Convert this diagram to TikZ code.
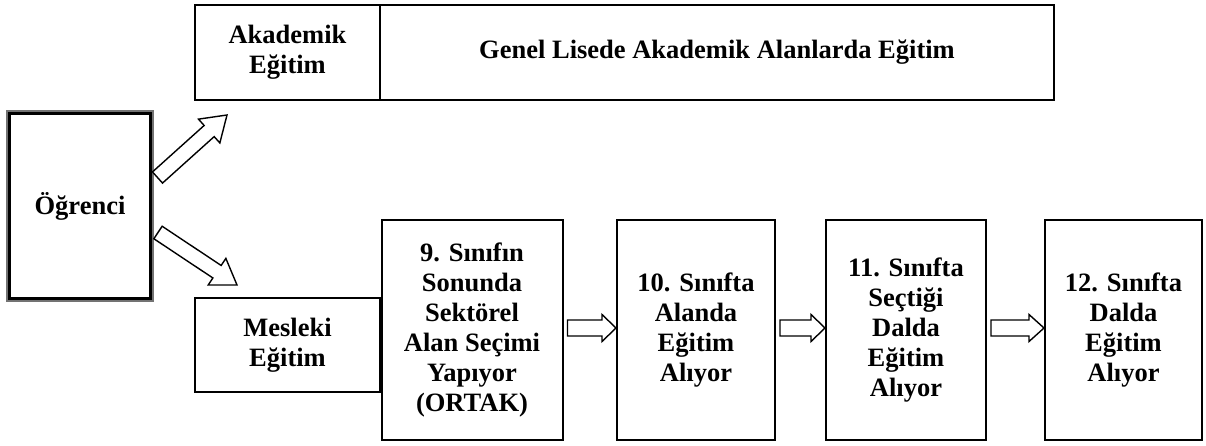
\documentclass[tikz,border=0pt]{standalone}
\usepackage{fontspec}
\setmainfont{Liberation Serif}
\usetikzlibrary{calc}
\newcommand\blockarr[5]{%
  \path (#2) coordinate (bT) ($(#2)!#5!(#1)$) coordinate (bH) (#1) coordinate (bS);
  \draw[barrow] ($(bS)!#3!90:(bT)$) -- ($(bH)!#3!90:(bT)$) -- ($(bH)!#4!90:(bT)$) -- (bT)
    -- ($(bH)!#4!-90:(bT)$) -- ($(bH)!#3!-90:(bT)$) -- ($(bS)!#3!-90:(bT)$) -- cycle;
}
\begin{document}
\begin{tikzpicture}[x=1pt,y=-1pt,
  box/.style={draw, line width=2pt, align=center, inner sep=0pt,
    font=\fontsize{26.5}{30}\selectfont\bfseries},
  barrow/.style={draw, fill=white, line width=1.4pt, line join=miter}]
\useasboundingbox (0,0) rectangle (1206,446);
\node[box, minimum width=185pt, minimum height=95pt] (akad) at (287.5,52.5) {Akademik\\Eğitim};
\node[box, minimum width=674pt, minimum height=95pt] (genel) at (717,52.5) {Genel Lisede Akademik Alanlarda Eğitim};
\node[box, draw=black!55, line width=1.5pt, minimum width=146pt, minimum height=190pt] (ogr) at (80,206) {Öğrenci};
\draw[line width=3pt] ([shift={(3.3,3.3)}]ogr.north west) rectangle ([shift={(-3.3,-3.3)}]ogr.south east);
\node[box, minimum width=185pt, minimum height=94pt] (mesl) at (287.5,345) {Mesleki\\Eğitim};
\node[box, minimum width=181pt, minimum height=220pt] (s9) at (472,330) {9. Sınıfın\\Sonunda\\Sektörel\\Alan Seçimi\\Yapıyor\\(ORTAK)};
\node[box, minimum width=158pt, minimum height=220pt] (s10) at (696,330) {10. Sınıfta\\Alanda\\Eğitim\\Alıyor};
\node[box, minimum width=160pt, minimum height=220pt] (s11) at (906,330) {11. Sınıfta\\Seçtiği\\Dalda\\Eğitim\\Alıyor};
\node[box, minimum width=157pt, minimum height=220pt] (s12) at (1123.5,330) {12. Sınıfta\\Dalda\\Eğitim\\Alıyor};
\coordinate (a1s) at (157.5,177.5);
\coordinate (a1t) at (227,115);
\coordinate (a2s) at (158,232.5);
\coordinate (a2t) at (237,285);
\blockarr{a1s}{a1t}{7.5pt}{16pt}{24pt}
\blockarr{a2s}{a2t}{7.5pt}{16pt}{24pt}
\blockarr{$(s9.east)+(4,-2)$}{$(s10.west)+(0,-2)$}{8pt}{13.5pt}{14pt}
\blockarr{$(s10.east)+(4,-2)$}{$(s11.west)+(0,-2)$}{8pt}{13.5pt}{14pt}
\blockarr{$(s11.east)+(4,-2)$}{$(s12.west)+(0,-2)$}{8pt}{13.5pt}{15pt}
\end{tikzpicture}
\end{document}
